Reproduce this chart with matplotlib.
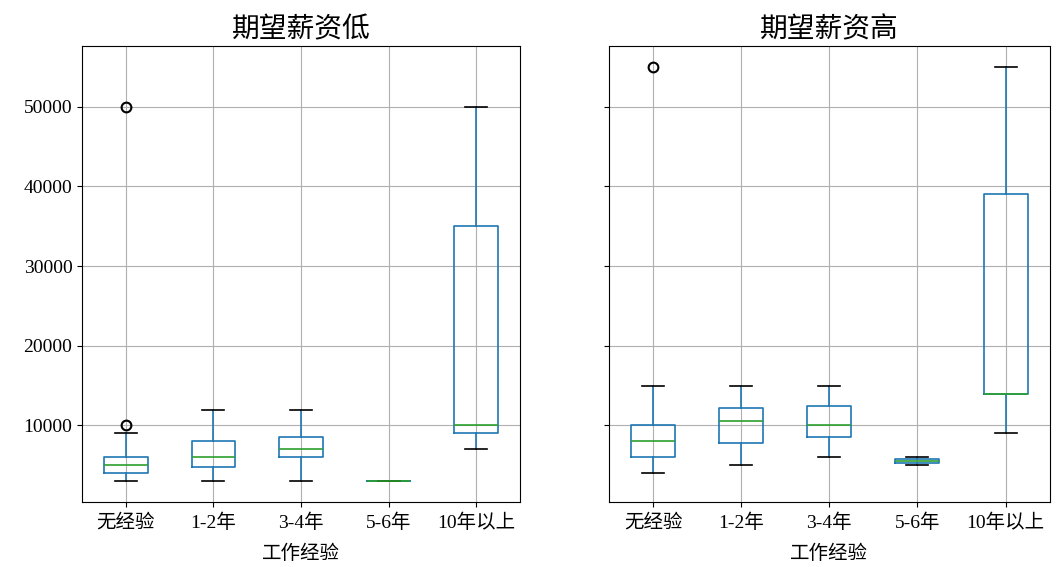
import matplotlib
matplotlib.use("Agg")
import matplotlib.pyplot as plt

plt.rcParams['font.family'] = ['Liberation Serif', 'Noto Sans CJK SC', 'DejaVu Sans']
plt.rcParams['axes.unicode_minus'] = False

# 工作经验分组
categories = ['无经验', '1-2年', '3-4年', '5-6年', '10年以上']

# 期望薪资低 (箱线图统计量)
low_whislo = [3000, 3000, 3000, 3000, 7000]
low_q1 = [4000, 4750, 6000, 3000, 9000]
low_med = [5000, 6000, 7000, 3000, 10000]
low_q3 = [6000, 8000, 8500, 3000, 35000]
low_whishi = [9000, 12000, 12000, 3000, 50000]
low_fliers = [[10000, 50000], [], [], [], []]

# 期望薪资高
high_whislo = [4000, 5000, 6000, 5000, 9000]
high_q1 = [6000, 7750, 8500, 5250, 14000]
high_med = [8000, 10500, 10000, 5500, 14000]
high_q3 = [10000, 12250, 12500, 5750, 39000]
high_whishi = [15000, 15000, 15000, 6000, 55000]
high_fliers = [[55000], [], [], [], []]


def make_stats(whislo, q1, med, q3, whishi, fliers):
    stats = []
    for i, name in enumerate(categories):
        stats.append({'label': name, 'whislo': whislo[i], 'q1': q1[i], 'med': med[i],
                      'q3': q3[i], 'whishi': whishi[i], 'fliers': fliers[i]})
    return stats


fig = plt.figure(figsize=(10.56, 5.67), dpi=100)
ax1 = fig.add_axes([0.0777, 0.1146, 0.4147, 0.8043])
ax2 = fig.add_axes([0.5767, 0.1146, 0.4173, 0.8043], sharey=ax1)

panels = [
    (ax1, '期望薪资低', make_stats(low_whislo, low_q1, low_med, low_q3, low_whishi, low_fliers)),
    (ax2, '期望薪资高', make_stats(high_whislo, high_q1, high_med, high_q3, high_whishi, high_fliers)),
]

for ax, title, stats in panels:
    ax.bxp(stats, showfliers=True,
           boxprops=dict(color='#1f77b4', linewidth=1.2),
           whiskerprops=dict(color='#1f77b4', linewidth=1.2),
           capprops=dict(color='k', linewidth=1.2),
           medianprops=dict(color='#2ca02c', linewidth=1.2),
           flierprops=dict(marker='o', markerfacecolor='none', markeredgecolor='k',
                           markersize=7, markeredgewidth=1.5))
    ax.grid(True, color='#b0b0b0', linewidth=0.8)
    ax.set_axisbelow(True)
    ax.set_title(title, fontsize=20)
    ax.set_xlabel('工作经验', fontsize=14, labelpad=9)
    ax.tick_params(labelsize=14)
    ax.tick_params(axis='x', pad=5)

ax1.set_ylim(400, 57600)
ax2.tick_params(axis='y', labelleft=False)

fig.savefig('out.png', dpi=100)
